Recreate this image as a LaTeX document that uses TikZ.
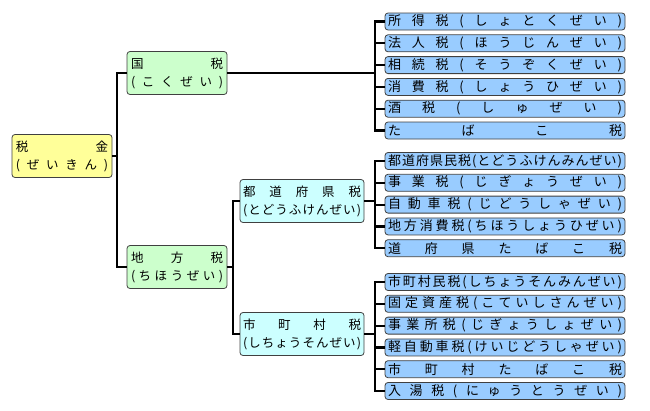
\documentclass[tikz,border=0pt]{standalone}
\usepackage{fontspec}
\newfontfamily\jpfont{Noto Sans CJK JP}
\usetikzlibrary{positioning}

\definecolor{leafblue}{HTML}{99CCFF}
\definecolor{kokugreen}{HTML}{CCFFCC}
\definecolor{chihocyan}{HTML}{CCFFFF}
\definecolor{kinyellow}{HTML}{FFFF99}

\makeatletter
\newcommand\spreadtext[2]{\hbox to #1{\@tfor\sp@ch:=#2\do{\sp@ch\hfil}\unskip}}
\makeatother

\tikzset{
  taxbox/.style={draw=black!75, line width=0.8pt, rounded corners=3pt, inner sep=0pt,
    font={\jpfont\fontsize{13}{18}\selectfont}},
  leaf/.style={taxbox, fill=leafblue, minimum width=240pt, minimum height=17pt},
  branch/.style={taxbox, align=center, minimum height=43pt,
    font={\jpfont\fontsize{12.5}{18}\selectfont}},
  link/.style={line width=2.2pt}
}

\begin{document}
\begin{tikzpicture}[x=1pt, y=-1pt, node distance=4pt]
\useasboundingbox (0,0) rectangle (650,410);

% left part
\node[branch, fill=kinyellow, minimum width=100pt] (zeikin) at (62,156)
  {\spreadtext{92pt}{税金}\\\spreadtext{92pt}{(ぜいきん)}};
\node[branch, fill=kokugreen, minimum width=100pt] (kokuzei) at (177,73)
  {\spreadtext{92pt}{国税}\\\spreadtext{92pt}{(こくぜい)}};
\node[branch, fill=kokugreen, minimum width=100pt] (chihozei) at (177,267)
  {\spreadtext{92pt}{地方税}\\\spreadtext{92pt}{(ちほうぜい)}};
\node[branch, fill=chihocyan, minimum width=124pt] (todofuken) at (302,201)
  {\spreadtext{118pt}{都道府県税}\\\spreadtext{118pt}{(とどうふけんぜい)}};
\node[branch, fill=chihocyan, minimum width=124pt] (shichoson) at (302,334)
  {\spreadtext{118pt}{市町村税}\\\spreadtext{118pt}{(しちょうそんぜい)}};

% national taxes
\node[leaf] (shotoku) at (505,21.5) {\spreadtext{234pt}{所得税(しょとくぜい)}};
\node[leaf, below=of shotoku] (hojin) {\spreadtext{234pt}{法人税(ほうじんぜい)}};
\node[leaf, below=of hojin] (sozoku) {\spreadtext{234pt}{相続税(そうぞくぜい)}};
\node[leaf, below=of sozoku] (shohi) {\spreadtext{234pt}{消費税(しょうひぜい)}};
\node[leaf, below=of shohi] (shu) {\spreadtext{234pt}{酒税(しゅぜい)}};
\node[leaf, below=of shu] (tabako) {\spreadtext{234pt}{たばこ税}};

% prefectural taxes
\node[leaf] (kenmin) at (505,161) {\spreadtext{234pt}{都道府県民税(とどうふけんみんぜい)}};
\node[leaf, below=of kenmin] (jigyo) {\spreadtext{234pt}{事業税(じぎょうぜい)}};
\node[leaf, below=of jigyo] (jidosha) {\spreadtext{234pt}{自動車税(じどうしゃぜい)}};
\node[leaf, below=of jidosha] (chihoshohi) {\spreadtext{234pt}{地方消費税(ちほうしょうひぜい)}};
\node[leaf, below=of chihoshohi] (kentabako) {\spreadtext{234pt}{道府県たばこ税}};

% municipal taxes
\node[leaf] (shimin) at (505,282) {\spreadtext{234pt}{市町村民税(しちょうそんみんぜい)}};
\node[leaf, below=of shimin] (kotei) {\spreadtext{234pt}{固定資産税(こていしさんぜい)}};
\node[leaf, below=of kotei] (jigyosho) {\spreadtext{234pt}{事業所税(じぎょうしょぜい)}};
\node[leaf, below=of jigyosho] (keijidosha) {\spreadtext{234pt}{軽自動車税(けいじどうしゃぜい)}};
\node[leaf, below=of keijidosha] (shitabako) {\spreadtext{234pt}{市町村たばこ税}};
\node[leaf, below=of shitabako] (nyuto) {\spreadtext{234pt}{入湯税(にゅうとうぜい)}};

% connectors
\draw[link] (kokuzei.west) -- ++(-10,0) |- (zeikin.east);
\draw[link] (chihozei.west) -- ++(-10,0) |- (zeikin.east);
\draw[link] (todofuken.west) -- ++(-7,0) |- (chihozei.east);
\draw[link] (shichoson.west) -- ++(-7,0) |- (chihozei.east);
\foreach \leafname in {shotoku,hojin,sozoku,shohi,shu,tabako}
  \draw[link] (\leafname.west) -- ++(-10,0) |- (kokuzei.east);
\foreach \leafname in {kenmin,jigyo,jidosha,chihoshohi,kentabako}
  \draw[link] (\leafname.west) -- ++(-10,0) |- (todofuken.east);
\foreach \leafname in {shimin,kotei,jigyosho,keijidosha,shitabako,nyuto}
  \draw[link] (\leafname.west) -- ++(-10,0) |- (shichoson.east);

\end{tikzpicture}
\end{document}
